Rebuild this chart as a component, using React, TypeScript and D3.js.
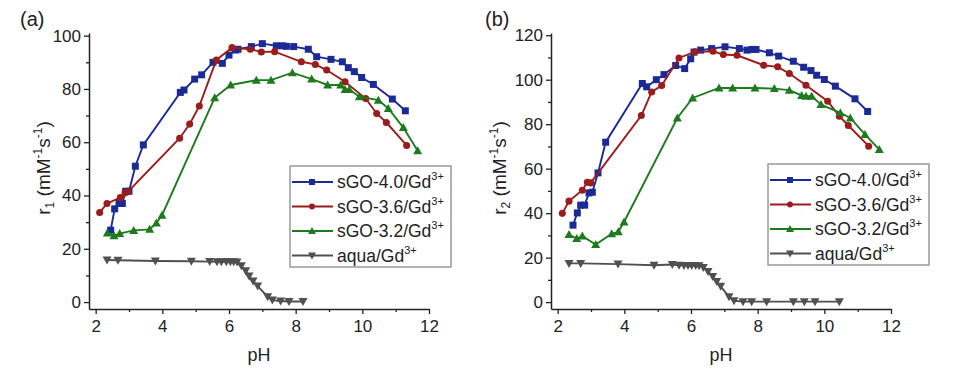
import React, { useEffect, useRef } from "react";
import * as d3 from "d3";

// ---------- DATA ----------
const seriesNames = ["sGO-4.0/Gd", "sGO-3.6/Gd", "sGO-3.2/Gd", "aqua/Gd"];
const seriesColors = ["#1c2a96", "#9a1c1c", "#1d7a1d", "#505050"];
const seriesMarkers = ["square", "circle", "triangleUp", "triangleDown"];

// Panel (a): r1
const r1Blue: [number, number][] = [
  [2.45, 27], [2.57, 35], [2.7, 37], [2.8, 37], [2.9, 41.6], [3.0, 41.6], [3.19, 51], [3.43, 59],
  [4.54, 78.7], [4.65, 79.6], [4.97, 83.7], [5.18, 85.3], [5.52, 90], [5.8, 89.6], [6.0, 92.7],
  [6.2, 94.6], [6.27, 94.9], [6.67, 95.9], [7.0, 97], [7.42, 96.2], [7.6, 96.2], [7.72, 96],
  [7.94, 95.9], [8.38, 94.9], [8.63, 92.1], [9.06, 91.1], [9.4, 90.2], [9.58, 88], [9.76, 86.5],
  [9.98, 84.3], [10.33, 81.7], [10.9, 76.2], [11.29, 71.8],
];
const r1Red: [number, number][] = [
  [2.12, 33.6], [2.34, 37], [2.74, 39.2], [2.88, 41], [2.97, 41.4], [4.52, 61.5], [4.82, 66.8],
  [5.11, 73.6], [5.62, 90.9], [6.09, 95.5], [6.64, 94.9], [6.97, 93.9], [7.37, 94], [8.17, 90.2],
  [8.59, 89.2], [8.93, 87.1], [9.48, 82.7], [10.1, 76.4], [10.43, 70.8], [10.72, 67.4], [11.33, 58.8],
];
const r1Green: [number, number][] = [
  [2.35, 25.9], [2.55, 24.9], [2.72, 25.7], [3.14, 26.9], [3.62, 27.3], [3.82, 29.7], [3.99, 32.6],
  [5.57, 76.7], [6.05, 81.5], [6.82, 83.3], [7.26, 83.3], [7.9, 86.1], [8.48, 83.7], [8.96, 81.5],
  [9.35, 81.5], [9.48, 79.8], [9.61, 79.8], [9.91, 77.1], [10.48, 75.8], [10.78, 72.7],
  [11.23, 65.5], [11.66, 56.8],
];
const r1Gray: [number, number][] = [
  [2.34, 15.8], [2.67, 15.7], [3.79, 15.4], [4.87, 15.3], [5.42, 15.2], [5.64, 15.1], [5.77, 15.1],
  [5.92, 15.1], [6.04, 15.1], [6.14, 15.1], [6.24, 15.0], [6.37, 13.6], [6.5, 11.8], [6.6, 9.8],
  [6.72, 7.9], [6.86, 6.0], [7.16, 2.0], [7.3, 0.75], [7.55, 0.4], [7.8, 0.2], [8.22, 0.2],
];

// Panel (b): r2
const r2Blue: [number, number][] = [
  [2.46, 34.6], [2.59, 40.1], [2.69, 43.6], [2.81, 43.6], [2.94, 49.1], [3.04, 49.4], [3.21, 58.1],
  [3.44, 71.9], [4.54, 98.3], [4.67, 96.8], [4.96, 100], [5.19, 102.3], [5.54, 106.4], [5.81, 105],
  [5.99, 109.4], [6.09, 112.4], [6.29, 113.3], [6.62, 114], [7.02, 114.8], [7.45, 114],
  [7.68, 113.3], [7.83, 113.6], [7.95, 113.6], [8.35, 112.1], [8.63, 110.6], [9.07, 108.3],
  [9.38, 105.6], [9.6, 104.1], [9.77, 102], [10.0, 100.1], [10.33, 97.1], [10.92, 91.4], [11.3, 85.7],
];
const r2Red: [number, number][] = [
  [2.14, 39.9], [2.34, 45.4], [2.74, 50.3], [2.89, 53.9], [2.99, 53.6], [4.51, 83.9], [4.82, 94.5],
  [5.12, 97.4], [5.64, 109.8], [6.11, 112.5], [6.66, 112.8], [6.97, 111.3], [7.38, 111],
  [8.18, 106.5], [8.6, 105.8], [8.95, 102.8], [9.45, 97.5], [10.1, 90.3], [10.45, 83.6],
  [10.72, 79.4], [11.33, 70.1],
];
const r2Green: [number, number][] = [
  [2.34, 30.4], [2.57, 28.6], [2.74, 29.7], [3.14, 25.9], [3.62, 30.7], [3.82, 31.6], [3.99, 36],
  [5.59, 82.8], [6.05, 91.8], [6.84, 96.3], [7.25, 96.3], [7.92, 96.3], [8.5, 96], [8.95, 95.3],
  [9.32, 92.9], [9.45, 92.6], [9.62, 92.6], [9.9, 88.8], [10.48, 85.1], [10.78, 82.8],
  [11.22, 75.4], [11.65, 68.6],
];
const r2Gray: [number, number][] = [
  [2.34, 17.4], [2.69, 17.4], [3.81, 17.1], [4.89, 16.6], [5.44, 16.9], [5.64, 16.6], [5.79, 16.5],
  [5.91, 16.5], [6.02, 16.5], [6.14, 16.5], [6.24, 16.4], [6.37, 15.6], [6.51, 13.8], [6.65, 11.5],
  [6.77, 9.3], [6.89, 7.1], [7.14, 2.4], [7.29, 0.6], [7.56, 0.2], [7.82, 0.2], [8.27, 0.2],
  [9.07, 0.2], [9.4, 0.2], [9.72, 0.2], [10.45, 0.2],
];

const xTicks = [2, 4, 6, 8, 10, 12];
const xMinorTicks = [3, 5, 7, 9, 11];
const yTicksA = [0, 20, 40, 60, 80, 100];
const yTicksB = [0, 20, 40, 60, 80, 100, 120];

const FONT = "Arial, 'Liberation Sans', sans-serif";

type Panel = {
  label: string;
  yName: string;
  sub: string;
  series: [number, number][][];
  yTicks: number[];
  yDomain: [number, number];
  left: number;
  yLabelOffset: number;
  labelX: number;
  legendX: number;
  legendY: number;
};

const panels: Panel[] = [
  {
    label: "(a)", yName: "r", sub: "1", series: [r1Blue, r1Red, r1Green, r1Gray],
    yTicks: yTicksA, yDomain: [-2.6, 101], left: 89, yLabelOffset: 39, labelX: 20,
    legendX: 290, legendY: 166,
  },
  {
    label: "(b)", yName: "r", sub: "2", series: [r2Blue, r2Red, r2Green, r2Gray],
    yTicks: yTicksB, yDomain: [-3.1, 121], left: 551, yLabelOffset: 45, labelX: 485,
    legendX: 768, legendY: 164,
  },
];

function markerPath(kind: string, s: number): string {
  const h = s / 2;
  if (kind === "square") return `M${-h},${-h}h${s}v${s}h${-s}Z`;
  if (kind === "circle") return d3.symbol(d3.symbolCircle, s * s * 0.8)() as string;
  if (kind === "triangleUp") return `M0,${-h - 1}L${h + 1},${h}L${-h - 1},${h}Z`;
  return `M0,${h + 1}L${h + 1},${-h}L${-h - 1},${-h}Z`;
}

export default function App() {
  const ref = useRef<SVGSVGElement>(null);
  useEffect(() => {
    const svg = d3.select(ref.current);
    svg.selectAll("*").remove();
    const bottom = 309;
    const top = 33;
    const plotW = 340;

    panels.forEach((p) => {
      const x = d3.scaleLinear().domain([1.8, 12]).range([p.left, p.left + plotW]);
      const y = d3.scaleLinear().domain(p.yDomain).range([bottom, top]);
      const g = svg.append("g");

      // series lines and markers
      p.series.forEach((data, i) => {
        const line = d3.line<[number, number]>().x((d) => x(d[0])).y((d) => y(d[1]));
        g.append("path").attr("d", line(data)).attr("fill", "none")
          .attr("stroke", seriesColors[i]).attr("stroke-width", 1.9);
        g.selectAll(null).data(data).enter().append("path")
          .attr("transform", (d) => `translate(${x(d[0])},${y(d[1])})`)
          .attr("d", markerPath(seriesMarkers[i], 7))
          .attr("fill", seriesColors[i]);
      });

      // axes
      const xAxis = g.append("g").attr("transform", `translate(0,${bottom})`)
        .call(d3.axisBottom(x).tickValues(xTicks).tickSize(5).tickSizeOuter(0).tickPadding(6).tickFormat(d3.format("d")));
      g.append("g").attr("transform", `translate(0,${bottom})`)
        .call(d3.axisBottom(x).tickValues(xMinorTicks).tickSize(3).tickFormat(() => ""))
        .select(".domain").remove();
      const yMinor = p.yTicks.slice(0, -1).map((v) => v + 10);
      const yAxis = g.append("g").attr("transform", `translate(${p.left},0)`)
        .call(d3.axisLeft(y).tickValues(p.yTicks).tickSize(5).tickSizeOuter(0).tickPadding(3).tickFormat(d3.format("d")));
      g.append("g").attr("transform", `translate(${p.left},0)`)
        .call(d3.axisLeft(y).tickValues(yMinor).tickSize(3).tickFormat(() => ""))
        .select(".domain").remove();
      [xAxis, yAxis].forEach((a) => {
        a.selectAll("text").attr("font-size", 17).attr("font-family", FONT).attr("fill", "#222");
        a.select(".domain").attr("stroke", "#222").attr("stroke-width", 1.5);
      });
      g.selectAll(".tick line").attr("stroke", "#222").attr("stroke-width", 1.3);

      // x label
      g.append("text").attr("x", x(6.9)).attr("y", 361).attr("text-anchor", "middle")
        .attr("font-size", 18).attr("font-family", FONT).attr("fill", "#222").text("pH");

      // y label
      const yl = g.append("text")
        .attr("transform", `translate(${p.left - p.yLabelOffset},168) rotate(-90)`)
        .attr("text-anchor", "middle").attr("font-size", 19).attr("font-family", FONT).attr("fill", "#222");
      yl.append("tspan").text(p.yName);
      yl.append("tspan").attr("font-size", 12).attr("dy", 4).text(p.sub);
      yl.append("tspan").attr("dy", -4).text(" (mM");
      yl.append("tspan").attr("font-size", 12).attr("dy", -8).text("-1");
      yl.append("tspan").attr("dy", 8).text("s");
      yl.append("tspan").attr("font-size", 12).attr("dy", -8).text("-1");
      yl.append("tspan").attr("dy", 8).text(")");

      // panel label
      g.append("text").attr("x", p.labelX).attr("y", 26)
        .attr("font-size", 20).attr("font-family", FONT).attr("fill", "#222").text(p.label);

      // legend
      const lg = g.append("g").attr("transform", `translate(${p.legendX},${p.legendY})`);
      lg.append("rect").attr("width", 161).attr("height", 101).attr("fill", "white")
        .attr("stroke", "#999").attr("stroke-width", 1.5);
      seriesNames.forEach((name, i) => {
        const cy = 16 + i * 24.5;
        lg.append("line").attr("x1", 2).attr("x2", 43).attr("y1", cy).attr("y2", cy)
          .attr("stroke", seriesColors[i]).attr("stroke-width", 2);
        lg.append("path").attr("transform", `translate(22,${cy})`)
          .attr("d", markerPath(seriesMarkers[i], 6)).attr("fill", seriesColors[i]);
        const t = lg.append("text").attr("x", 47).attr("y", cy + 6)
          .attr("font-size", 17.5).attr("font-family", FONT).attr("fill", "#222");
        t.append("tspan").text(name);
        t.append("tspan").attr("font-size", 11).attr("dy", -8).text("3+");
      });
    });
  }, []);
  return <svg ref={ref} width={955} height={375} style={{ display: "block", position: "absolute", left: 0, top: 0, background: "white" }} />;
}
